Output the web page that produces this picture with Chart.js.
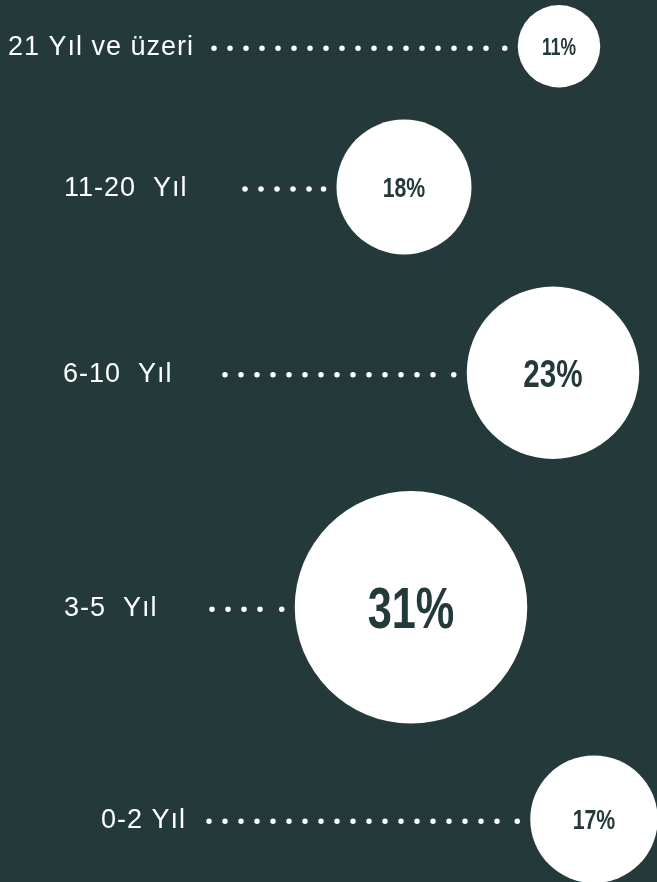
<!DOCTYPE html>
<html>
<head>
<meta charset="utf-8">
<script src="https://cdn.jsdelivr.net/npm/chart.js@4"></script>
<style>
  html, body { margin: 0; padding: 0; background: #24393a; }
  #wrap { width: 657px; height: 882px; position: relative; }
</style>
</head>
<body>
<div id="wrap"><canvas id="tenureChart"></canvas></div>
<script>
// data
const categories = ['21 Yıl ve üzeri', '11-20  Yıl', '6-10  Yıl', '3-5  Yıl', '0-2 Yıl'];
const shares = [11, 18, 23, 31, 17];

// layout (pixel positions / sizes, not data)
const BG = '#24393a';
const bubbleX = [559, 404, 553, 411, 594];
const labelX = [8, 64, 63, 64, 101];
const leaderStart = [214, 245, 225, 212, 209];
const pctFontSize = [23, 28, 39, 57, 28];
const PX_PER_PCT = 3.75;
const TOP = 5;
const GAP = 32;

// stack circles top to bottom with constant gap
const radii = shares.map(v => v * PX_PER_PCT);
const bubbleY = [];
radii.forEach((r, i) => {
  if (i === 0) bubbleY.push(TOP + r);
  else bubbleY.push(bubbleY[i - 1] + radii[i - 1] + GAP + r);
});

const points = shares.map((v, i) => ({ x: bubbleX[i], y: bubbleY[i], r: radii[i] }));

const labelsPlugin = {
  id: 'labels',
  afterDatasetsDraw(chart) {
    const ctx = chart.ctx;
    const meta = chart.getDatasetMeta(0);
    meta.data.forEach((el, i) => {
      const { x, y } = el.getProps(['x', 'y'], true);
      const r = radii[i];

      // category label
      ctx.save();
      ctx.fillStyle = '#ffffff';
      ctx.font = '27px "Liberation Sans", Arial, sans-serif';
      ctx.letterSpacing = '1px';
      ctx.textAlign = 'left';
      ctx.textBaseline = 'alphabetic';
      ctx.fillText(categories[i], labelX[i], y + 9);
      ctx.restore();

      // dotted leader
      const endX = x - r - 13;
      ctx.save();
      ctx.strokeStyle = '#ffffff';
      ctx.fillStyle = '#ffffff';
      ctx.lineWidth = 5.5;
      ctx.lineCap = 'round';
      ctx.setLineDash([0, 16]);
      ctx.beginPath();
      ctx.moveTo(leaderStart[i], y + 2);
      ctx.lineTo(endX - 8, y + 2);
      ctx.stroke();
      ctx.setLineDash([]);
      ctx.beginPath();
      ctx.arc(endX, y + 2, 2.75, 0, Math.PI * 2);
      ctx.fill();
      ctx.restore();

      // percentage inside circle
      const fs = pctFontSize[i];
      ctx.save();
      ctx.fillStyle = BG;
      ctx.font = 'bold ' + fs + 'px "Liberation Sans", Arial, sans-serif';
      ctx.textAlign = 'center';
      ctx.textBaseline = 'alphabetic';
      ctx.translate(x, y + fs * 0.36);
      ctx.scale(0.76, 1);
      ctx.fillText(shares[i] + '%', 0, 0);
      ctx.restore();
    });
  }
};

new Chart(document.getElementById('tenureChart'), {
  type: 'bubble',
  data: {
    datasets: [{
      data: points,
      backgroundColor: '#ffffff',
      borderWidth: 0,
      hoverBorderWidth: 0,
      clip: false
    }]
  },
  options: {
    responsive: true,
    maintainAspectRatio: false,
    animation: false,
    events: [],
    layout: { padding: 0, autoPadding: false },
    plugins: {
      legend: { display: false },
      tooltip: { enabled: false }
    },
    scales: {
      x: { type: 'linear', min: 0, max: 657, display: false },
      y: { type: 'linear', min: 0, max: 882, reverse: true, display: false }
    }
  },
  plugins: [labelsPlugin]
});
</script>
</body>
</html>
